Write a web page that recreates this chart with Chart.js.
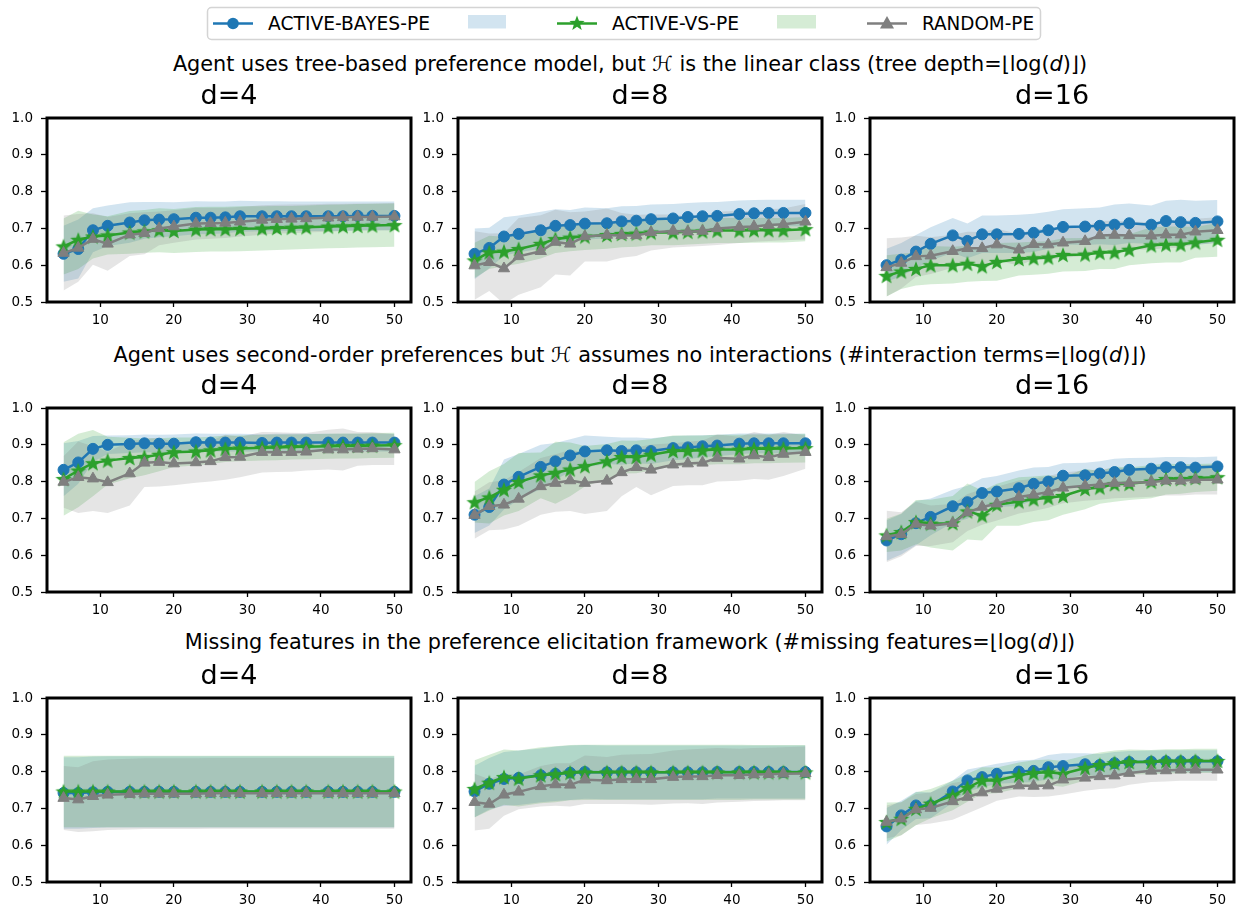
<!DOCTYPE html>
<html>
<head>
<meta charset="utf-8">
<script src="https://cdn.jsdelivr.net/npm/chart.js@4.4.1/dist/chart.umd.min.js"></script>
<style>
  body { margin: 0; width: 1238px; height: 909px; position: relative; overflow: hidden; background: #fff; font-family: 'DejaVu Sans', sans-serif; }
  .row_title { position: absolute; left: 0; width: 1260px; text-align: center; font-size: 20.8px; line-height: 22px; color: #000; white-space: nowrap; }
  .panel { position: absolute; width: 419px; height: 250px; }
  #legend { position: absolute; left: 0; top: 0; }
</style>
</head>
<body>

<svg id="legend" width="1238" height="46">
  <rect x="207.5" y="7.5" width="833" height="32" rx="4" fill="#fff" stroke="#d4d4d4" stroke-width="1.5"/>
  <line x1="213" y1="23.5" x2="253" y2="23.5" stroke="#1f77b4" stroke-width="2.5"/>
  <circle cx="233" cy="23.5" r="5.8" fill="#1f77b4"/>
  <text x="268" y="29.8" font-family="DejaVu Sans" font-size="20" fill="#000" textLength="162" lengthAdjust="spacingAndGlyphs">ACTIVE-BAYES-PE</text>
  <rect x="468" y="15" width="38" height="13.5" fill="rgba(31,119,180,0.2)"/>
  <line x1="557" y1="23.5" x2="597" y2="23.5" stroke="#2ca02c" stroke-width="2.5"/>
  <polygon id="legend_star" fill="#2ca02c"/>
  <text x="612" y="29.8" font-family="DejaVu Sans" font-size="20" fill="#000" textLength="127" lengthAdjust="spacingAndGlyphs">ACTIVE-VS-PE</text>
  <rect x="777" y="15" width="39" height="13.5" fill="rgba(44,160,44,0.2)"/>
  <line x1="867" y1="23.5" x2="907" y2="23.5" stroke="#7f7f7f" stroke-width="2.5"/>
  <polygon points="887,16 894,28.5 880,28.5" fill="#7f7f7f"/>
  <text x="922" y="29.8" font-family="DejaVu Sans" font-size="20" fill="#000" textLength="112" lengthAdjust="spacingAndGlyphs">RANDOM-PE</text>
</svg>

<div class="row_title" style="top:53px">Agent uses tree-based preference model, but <i>ℋ</i> is the linear class (tree depth=⌊log(<i>d</i>)⌋)</div>
<div class="row_title" style="top:344px">Agent uses second-order preferences but <i>ℋ</i> assumes no interactions (#interaction terms=⌊log(<i>d</i>)⌋)</div>
<div class="row_title" style="top:631px">Missing features in the preference elicitation framework (#missing features=⌊log(<i>d</i>)⌋)</div>

<div class="panel" style="left:0px;top:78px"><canvas id="tree_d4"></canvas></div>
<div class="panel" style="left:411px;top:78px"><canvas id="tree_d8"></canvas></div>
<div class="panel" style="left:823px;top:78px"><canvas id="tree_d16"></canvas></div>
<div class="panel" style="left:0px;top:368px"><canvas id="second_d4"></canvas></div>
<div class="panel" style="left:411px;top:368px"><canvas id="second_d8"></canvas></div>
<div class="panel" style="left:823px;top:368px"><canvas id="second_d16"></canvas></div>
<div class="panel" style="left:0px;top:658px"><canvas id="missing_d4"></canvas></div>
<div class="panel" style="left:411px;top:658px"><canvas id="missing_d8"></canvas></div>
<div class="panel" style="left:823px;top:658px"><canvas id="missing_d16"></canvas></div>

<script>
// number of queries (x axis)
let xVals = [5, 7, 9, 11, 14, 16, 18, 20, 23, 25, 27, 29, 32, 34, 36, 38, 41, 43, 45, 47, 50]
let xTicks = [10, 20, 30, 40, 50]
let yTicks = [0.5, 0.6, 0.7, 0.8, 0.9, 1.0]
let dTitles = ['d=4', 'd=8', 'd=16']

// row 1 : tree-based preference model
let treeD4Bayes = [0.631, 0.644, 0.695, 0.707, 0.716, 0.722, 0.724, 0.725, 0.729, 0.729, 0.730, 0.733, 0.733, 0.733, 0.733, 0.733, 0.733, 0.733, 0.734, 0.734, 0.734]
let treeD4BayesSd = [0.076, 0.080, 0.060, 0.055, 0.055, 0.050, 0.048, 0.046, 0.045, 0.044, 0.043, 0.042, 0.041, 0.041, 0.040, 0.040, 0.040, 0.040, 0.039, 0.039, 0.039]
let treeD4Vs = [0.651, 0.669, 0.678, 0.681, 0.689, 0.692, 0.695, 0.693, 0.697, 0.698, 0.698, 0.699, 0.700, 0.701, 0.702, 0.703, 0.705, 0.706, 0.707, 0.708, 0.709]
let treeD4VsSd = [0.076, 0.079, 0.060, 0.052, 0.058, 0.058, 0.060, 0.060, 0.061, 0.061, 0.061, 0.061, 0.060, 0.060, 0.059, 0.059, 0.059, 0.059, 0.059, 0.059, 0.059]
let treeD4Rand = [0.633, 0.647, 0.671, 0.658, 0.683, 0.687, 0.700, 0.705, 0.713, 0.714, 0.715, 0.718, 0.723, 0.725, 0.726, 0.727, 0.729, 0.730, 0.731, 0.731, 0.732]
let treeD4RandSd = [0.102, 0.092, 0.070, 0.073, 0.058, 0.057, 0.046, 0.044, 0.043, 0.042, 0.041, 0.040, 0.040, 0.039, 0.039, 0.038, 0.038, 0.037, 0.037, 0.037, 0.037]

let treeD8Bayes = [0.631, 0.647, 0.678, 0.685, 0.695, 0.707, 0.709, 0.713, 0.714, 0.719, 0.721, 0.725, 0.727, 0.731, 0.733, 0.734, 0.739, 0.741, 0.742, 0.742, 0.742]
let treeD8BayesSd = [0.069, 0.055, 0.052, 0.050, 0.050, 0.045, 0.041, 0.044, 0.041, 0.041, 0.040, 0.040, 0.039, 0.038, 0.038, 0.038, 0.037, 0.036, 0.036, 0.036, 0.036]
let treeD8Vs = [0.613, 0.635, 0.637, 0.644, 0.658, 0.671, 0.675, 0.678, 0.682, 0.685, 0.686, 0.689, 0.689, 0.691, 0.692, 0.694, 0.694, 0.695, 0.695, 0.695, 0.698]
let treeD8VsSd = [0.048, 0.045, 0.040, 0.040, 0.040, 0.038, 0.037, 0.037, 0.037, 0.036, 0.036, 0.035, 0.035, 0.035, 0.034, 0.034, 0.034, 0.034, 0.033, 0.033, 0.033]
let treeD8Rand = [0.599, 0.608, 0.591, 0.624, 0.638, 0.663, 0.658, 0.678, 0.682, 0.681, 0.681, 0.689, 0.693, 0.691, 0.693, 0.700, 0.704, 0.705, 0.709, 0.711, 0.718]
let treeD8RandSd = [0.093, 0.078, 0.096, 0.104, 0.098, 0.088, 0.086, 0.068, 0.072, 0.061, 0.056, 0.049, 0.045, 0.041, 0.041, 0.045, 0.044, 0.041, 0.043, 0.043, 0.048]

let treeD16Bayes = [0.600, 0.615, 0.637, 0.658, 0.681, 0.666, 0.684, 0.684, 0.685, 0.688, 0.695, 0.704, 0.705, 0.707, 0.710, 0.714, 0.710, 0.720, 0.717, 0.715, 0.719]
let treeD16BayesSd = [0.045, 0.045, 0.045, 0.045, 0.047, 0.047, 0.051, 0.051, 0.052, 0.052, 0.050, 0.048, 0.050, 0.050, 0.055, 0.054, 0.052, 0.055, 0.061, 0.060, 0.058]
let treeD16Vs = [0.571, 0.583, 0.590, 0.600, 0.600, 0.604, 0.597, 0.609, 0.617, 0.619, 0.621, 0.628, 0.629, 0.634, 0.635, 0.642, 0.654, 0.656, 0.656, 0.662, 0.669]
let treeD16VsSd = [0.056, 0.048, 0.045, 0.052, 0.050, 0.049, 0.040, 0.051, 0.045, 0.045, 0.044, 0.045, 0.045, 0.044, 0.045, 0.042, 0.049, 0.049, 0.049, 0.042, 0.046]
let treeD16Rand = [0.594, 0.606, 0.624, 0.626, 0.638, 0.646, 0.646, 0.656, 0.642, 0.657, 0.656, 0.661, 0.665, 0.681, 0.682, 0.681, 0.680, 0.683, 0.683, 0.691, 0.695]
let treeD16RandSd = [0.079, 0.069, 0.056, 0.050, 0.045, 0.045, 0.044, 0.043, 0.043, 0.042, 0.042, 0.041, 0.040, 0.039, 0.039, 0.038, 0.037, 0.036, 0.035, 0.035, 0.035]

// row 2 : second-order preferences
let secondD4Bayes = [0.832, 0.852, 0.889, 0.900, 0.902, 0.904, 0.903, 0.903, 0.907, 0.906, 0.906, 0.906, 0.905, 0.906, 0.906, 0.906, 0.906, 0.906, 0.906, 0.906, 0.906]
let secondD4BayesSd = [0.072, 0.058, 0.035, 0.025, 0.024, 0.024, 0.024, 0.025, 0.024, 0.024, 0.024, 0.024, 0.024, 0.024, 0.024, 0.024, 0.024, 0.024, 0.024, 0.024, 0.024]
let secondD4Vs = [0.807, 0.830, 0.850, 0.857, 0.864, 0.867, 0.873, 0.880, 0.882, 0.885, 0.889, 0.890, 0.892, 0.893, 0.894, 0.895, 0.896, 0.897, 0.897, 0.898, 0.899]
let secondD4VsSd = [0.100, 0.100, 0.090, 0.065, 0.055, 0.050, 0.045, 0.040, 0.038, 0.037, 0.036, 0.035, 0.035, 0.035, 0.034, 0.034, 0.034, 0.034, 0.034, 0.034, 0.034]
let secondD4Rand = [0.799, 0.812, 0.808, 0.798, 0.822, 0.851, 0.853, 0.849, 0.852, 0.855, 0.866, 0.867, 0.880, 0.880, 0.880, 0.881, 0.887, 0.887, 0.889, 0.890, 0.887]
let secondD4RandSd = [0.070, 0.097, 0.088, 0.083, 0.087, 0.066, 0.066, 0.059, 0.055, 0.055, 0.061, 0.055, 0.055, 0.054, 0.053, 0.051, 0.054, 0.057, 0.046, 0.045, 0.042]

let secondD8Bayes = [0.710, 0.731, 0.792, 0.813, 0.840, 0.855, 0.871, 0.882, 0.885, 0.883, 0.885, 0.883, 0.891, 0.893, 0.896, 0.898, 0.903, 0.904, 0.904, 0.904, 0.904]
let secondD8BayesSd = [0.050, 0.050, 0.068, 0.062, 0.060, 0.050, 0.044, 0.043, 0.037, 0.037, 0.035, 0.035, 0.033, 0.032, 0.030, 0.029, 0.028, 0.027, 0.027, 0.027, 0.026]
let secondD8Vs = [0.744, 0.757, 0.778, 0.799, 0.817, 0.824, 0.833, 0.842, 0.855, 0.867, 0.867, 0.873, 0.883, 0.884, 0.885, 0.887, 0.887, 0.889, 0.889, 0.890, 0.891]
let secondD8VsSd = [0.055, 0.071, 0.070, 0.079, 0.062, 0.084, 0.073, 0.055, 0.047, 0.045, 0.044, 0.043, 0.042, 0.041, 0.040, 0.040, 0.040, 0.039, 0.039, 0.039, 0.039]
let secondD8Rand = [0.709, 0.733, 0.737, 0.753, 0.787, 0.796, 0.803, 0.796, 0.802, 0.825, 0.839, 0.832, 0.846, 0.849, 0.851, 0.864, 0.862, 0.871, 0.866, 0.875, 0.880]
let secondD8RandSd = [0.064, 0.065, 0.067, 0.073, 0.077, 0.078, 0.083, 0.084, 0.082, 0.065, 0.054, 0.069, 0.058, 0.059, 0.061, 0.064, 0.060, 0.064, 0.061, 0.060, 0.045]

let secondD16Bayes = [0.640, 0.657, 0.687, 0.704, 0.733, 0.744, 0.769, 0.773, 0.782, 0.794, 0.800, 0.816, 0.817, 0.822, 0.826, 0.832, 0.835, 0.839, 0.839, 0.838, 0.841]
let secondD16BayesSd = [0.055, 0.055, 0.060, 0.050, 0.045, 0.045, 0.040, 0.042, 0.048, 0.044, 0.040, 0.034, 0.034, 0.033, 0.036, 0.032, 0.030, 0.028, 0.028, 0.028, 0.027]
let secondD16Vs = [0.654, 0.663, 0.690, 0.686, 0.687, 0.719, 0.708, 0.737, 0.746, 0.752, 0.756, 0.761, 0.780, 0.784, 0.793, 0.794, 0.800, 0.807, 0.807, 0.810, 0.812]
let secondD16VsSd = [0.045, 0.050, 0.060, 0.065, 0.074, 0.076, 0.068, 0.057, 0.066, 0.062, 0.061, 0.051, 0.055, 0.044, 0.048, 0.044, 0.045, 0.042, 0.040, 0.038, 0.037]
let secondD16Rand = [0.651, 0.657, 0.685, 0.680, 0.687, 0.716, 0.731, 0.740, 0.758, 0.764, 0.772, 0.783, 0.789, 0.792, 0.796, 0.796, 0.799, 0.802, 0.802, 0.805, 0.805]
let secondD16RandSd = [0.070, 0.060, 0.060, 0.055, 0.052, 0.050, 0.048, 0.046, 0.045, 0.044, 0.043, 0.042, 0.041, 0.041, 0.041, 0.040, 0.040, 0.040, 0.040, 0.040, 0.040]

// row 3 : missing features
let missingD4Bayes = [0.742, 0.742, 0.744, 0.745, 0.745, 0.745, 0.745, 0.745, 0.745, 0.745, 0.745, 0.745, 0.745, 0.745, 0.745, 0.745, 0.745, 0.745, 0.745, 0.745, 0.745]
let missingD4BayesSd = [0.097, 0.097, 0.097, 0.097, 0.097, 0.097, 0.097, 0.097, 0.097, 0.097, 0.097, 0.097, 0.097, 0.097, 0.097, 0.097, 0.097, 0.097, 0.097, 0.097, 0.097]
let missingD4Vs = [0.746, 0.746, 0.746, 0.746, 0.746, 0.746, 0.746, 0.746, 0.746, 0.746, 0.746, 0.746, 0.746, 0.746, 0.746, 0.746, 0.746, 0.746, 0.746, 0.746, 0.746]
let missingD4VsSd = [0.097, 0.097, 0.097, 0.097, 0.097, 0.097, 0.097, 0.097, 0.097, 0.097, 0.097, 0.097, 0.097, 0.097, 0.097, 0.097, 0.097, 0.097, 0.097, 0.097, 0.097]
let missingD4Rand = [0.728, 0.724, 0.733, 0.737, 0.739, 0.740, 0.740, 0.740, 0.740, 0.741, 0.741, 0.741, 0.741, 0.741, 0.741, 0.741, 0.741, 0.741, 0.741, 0.741, 0.741]
let missingD4RandSd = [0.087, 0.088, 0.095, 0.096, 0.096, 0.096, 0.096, 0.096, 0.096, 0.096, 0.096, 0.096, 0.096, 0.096, 0.096, 0.096, 0.096, 0.096, 0.096, 0.096, 0.096]

let missingD8Bayes = [0.746, 0.767, 0.780, 0.783, 0.790, 0.794, 0.797, 0.799, 0.798, 0.798, 0.798, 0.798, 0.798, 0.798, 0.798, 0.799, 0.799, 0.799, 0.799, 0.799, 0.799]
let missingD8BayesSd = [0.070, 0.070, 0.073, 0.074, 0.073, 0.074, 0.074, 0.073, 0.073, 0.073, 0.073, 0.073, 0.073, 0.073, 0.073, 0.072, 0.072, 0.072, 0.072, 0.072, 0.072]
let missingD8Vs = [0.753, 0.770, 0.785, 0.781, 0.790, 0.793, 0.797, 0.798, 0.798, 0.798, 0.798, 0.798, 0.798, 0.798, 0.798, 0.798, 0.798, 0.798, 0.798, 0.798, 0.798]
let missingD8VsSd = [0.078, 0.076, 0.075, 0.076, 0.076, 0.076, 0.075, 0.075, 0.075, 0.075, 0.075, 0.075, 0.075, 0.075, 0.075, 0.075, 0.075, 0.074, 0.074, 0.074, 0.074]
let missingD8Rand = [0.717, 0.712, 0.737, 0.745, 0.760, 0.765, 0.764, 0.778, 0.776, 0.779, 0.779, 0.779, 0.785, 0.787, 0.787, 0.790, 0.790, 0.792, 0.793, 0.794, 0.795]
let missingD8RandSd = [0.077, 0.067, 0.057, 0.047, 0.055, 0.058, 0.059, 0.066, 0.064, 0.067, 0.068, 0.069, 0.072, 0.073, 0.075, 0.074, 0.072, 0.072, 0.072, 0.072, 0.073]

let missingD16Bayes = [0.651, 0.681, 0.708, 0.708, 0.746, 0.776, 0.785, 0.794, 0.800, 0.802, 0.812, 0.815, 0.820, 0.818, 0.823, 0.826, 0.827, 0.828, 0.828, 0.828, 0.828]
let missingD16BayesSd = [0.050, 0.040, 0.037, 0.035, 0.030, 0.030, 0.028, 0.027, 0.030, 0.030, 0.033, 0.035, 0.030, 0.030, 0.030, 0.030, 0.030, 0.030, 0.030, 0.030, 0.030]
let missingD16Vs = [0.663, 0.672, 0.699, 0.713, 0.735, 0.756, 0.776, 0.776, 0.790, 0.796, 0.798, 0.794, 0.810, 0.818, 0.823, 0.826, 0.826, 0.828, 0.828, 0.829, 0.829]
let missingD16VsSd = [0.053, 0.045, 0.045, 0.040, 0.040, 0.038, 0.036, 0.035, 0.035, 0.035, 0.035, 0.035, 0.034, 0.034, 0.034, 0.034, 0.033, 0.033, 0.033, 0.033, 0.033]
let missingD16Rand = [0.663, 0.672, 0.697, 0.701, 0.719, 0.731, 0.743, 0.753, 0.762, 0.761, 0.762, 0.778, 0.783, 0.787, 0.789, 0.796, 0.802, 0.803, 0.805, 0.805, 0.805]
let missingD16RandSd = [0.045, 0.045, 0.042, 0.042, 0.050, 0.045, 0.040, 0.032, 0.030, 0.030, 0.030, 0.040, 0.035, 0.034, 0.034, 0.032, 0.030, 0.030, 0.030, 0.030, 0.030]

let blue = '#1f77b4'
let green = '#2ca02c'
let gray = '#7f7f7f'

Chart.defaults.font.family = 'DejaVu Sans'
Chart.defaults.color = '#000'

// filled 5 point star (chart.js 'star' is only an asterisk)
function starPoints(cx, cy, r) {
  let pts = []
  for (let i = 0; i < 10; i++) {
    let rad = i % 2 === 0 ? r : r * 0.42
    let a = -Math.PI / 2 + i * Math.PI / 5
    pts.push([cx + rad * Math.cos(a), cy + rad * Math.sin(a)])
  }
  return pts
}

let starImg = document.createElement('canvas')
starImg.width = 18
starImg.height = 18
let sctx = starImg.getContext('2d')
sctx.fillStyle = green
sctx.beginPath()
starPoints(9, 9.7, 8.5).forEach((p, i) => i === 0 ? sctx.moveTo(p[0], p[1]) : sctx.lineTo(p[0], p[1]))
sctx.closePath()
sctx.fill()

document.querySelector('#legend_star').setAttribute('points', starPoints(577, 23.5, 8).map(p => p.join(',')).join(' '))

let frame = {
  id: 'frame',
  afterDraw(chart) {
    let a = chart.chartArea
    let c = chart.ctx
    c.save()
    c.strokeStyle = '#000'
    c.lineWidth = 3
    c.strokeRect(a.left, a.top, a.right - a.left, a.bottom - a.top)
    c.restore()
  }
}

function pts(values, sd, sign) {
  return xVals.map((x, i) => ({ x: x, y: sd ? values[i] + sign * sd[i] : values[i] }))
}

function lineSet(values, color, style, radius, order) {
  return {
    data: pts(values), borderColor: color, backgroundColor: color, borderWidth: 2.5,
    pointStyle: style, pointRadius: radius, pointBorderWidth: 1, pointBorderColor: color,
    pointBackgroundColor: color, fill: false, order: order
  }
}

function bandSet(values, sd, sign, fillColor, target, order) {
  return {
    data: pts(values, sd, sign), borderWidth: 0, pointRadius: 0, borderColor: 'transparent',
    backgroundColor: fillColor, fill: target, order: order
  }
}

function makePanel(id, title, bayes, bayesSd, vs, vsSd, rand, randSd) {
  new Chart(document.getElementById(id), {
    type: 'line',
    data: {
      datasets: [
        lineSet(rand, gray, 'triangle', 6.5, 0),
        lineSet(vs, green, starImg, 7, 1),
        lineSet(bayes, blue, 'circle', 5.5, 2),
        bandSet(bayes, bayesSd, 1, 'rgba(31,119,180,0.2)', false, 9),
        bandSet(bayes, bayesSd, -1, 'rgba(31,119,180,0.2)', 3, 8),
        bandSet(vs, vsSd, 1, 'rgba(44,160,44,0.2)', false, 7),
        bandSet(vs, vsSd, -1, 'rgba(44,160,44,0.2)', 5, 6),
        bandSet(rand, randSd, 1, 'rgba(127,127,127,0.2)', false, 5),
        bandSet(rand, randSd, -1, 'rgba(127,127,127,0.2)', 7, 4)
      ]
    },
    options: {
      responsive: true,
      maintainAspectRatio: false,
      animation: false,
      layout: { padding: { left: 0, right: 6, top: 0, bottom: 0 } },
      plugins: {
        legend: { display: false },
        tooltip: { enabled: false },
        title: {
          display: true,
          fullSize: false,
          text: title,
          color: '#000',
          font: { size: 27, weight: 'normal', lineHeight: 1.2 },
          padding: { top: 3, bottom: 4.6 }
        }
      },
      scales: {
        x: {
          type: 'linear',
          min: 2.75,
          max: 52.25,
          afterBuildTicks: axis => { axis.ticks = xTicks.map(v => ({ value: v })) },
          afterFit: axis => { axis.height = 26 },
          border: { display: false },
          grid: { drawOnChartArea: false, drawTicks: true, tickLength: 5, tickWidth: 1.3, tickColor: '#000' },
          ticks: { padding: 5, font: { size: 13.5 }, color: '#000', maxRotation: 0, callback: v => String(v) }
        },
        y: {
          min: 0.5,
          max: 1.0,
          afterBuildTicks: axis => { axis.ticks = yTicks.map(v => ({ value: v })) },
          afterFit: axis => { axis.width = 47 },
          border: { display: false },
          grid: { drawOnChartArea: false, drawTicks: true, tickLength: 6, tickWidth: 1.3, tickColor: '#000' },
          ticks: { padding: 8, font: { size: 13.5 }, color: '#000', callback: v => v.toFixed(1) }
        }
      }
    },
    plugins: [frame]
  })
}

makePanel('tree_d4', dTitles[0], treeD4Bayes, treeD4BayesSd, treeD4Vs, treeD4VsSd, treeD4Rand, treeD4RandSd)
makePanel('tree_d8', dTitles[1], treeD8Bayes, treeD8BayesSd, treeD8Vs, treeD8VsSd, treeD8Rand, treeD8RandSd)
makePanel('tree_d16', dTitles[2], treeD16Bayes, treeD16BayesSd, treeD16Vs, treeD16VsSd, treeD16Rand, treeD16RandSd)
makePanel('second_d4', dTitles[0], secondD4Bayes, secondD4BayesSd, secondD4Vs, secondD4VsSd, secondD4Rand, secondD4RandSd)
makePanel('second_d8', dTitles[1], secondD8Bayes, secondD8BayesSd, secondD8Vs, secondD8VsSd, secondD8Rand, secondD8RandSd)
makePanel('second_d16', dTitles[2], secondD16Bayes, secondD16BayesSd, secondD16Vs, secondD16VsSd, secondD16Rand, secondD16RandSd)
makePanel('missing_d4', dTitles[0], missingD4Bayes, missingD4BayesSd, missingD4Vs, missingD4VsSd, missingD4Rand, missingD4RandSd)
makePanel('missing_d8', dTitles[1], missingD8Bayes, missingD8BayesSd, missingD8Vs, missingD8VsSd, missingD8Rand, missingD8RandSd)
makePanel('missing_d16', dTitles[2], missingD16Bayes, missingD16BayesSd, missingD16Vs, missingD16VsSd, missingD16Rand, missingD16RandSd)
</script>
</body>
</html>
